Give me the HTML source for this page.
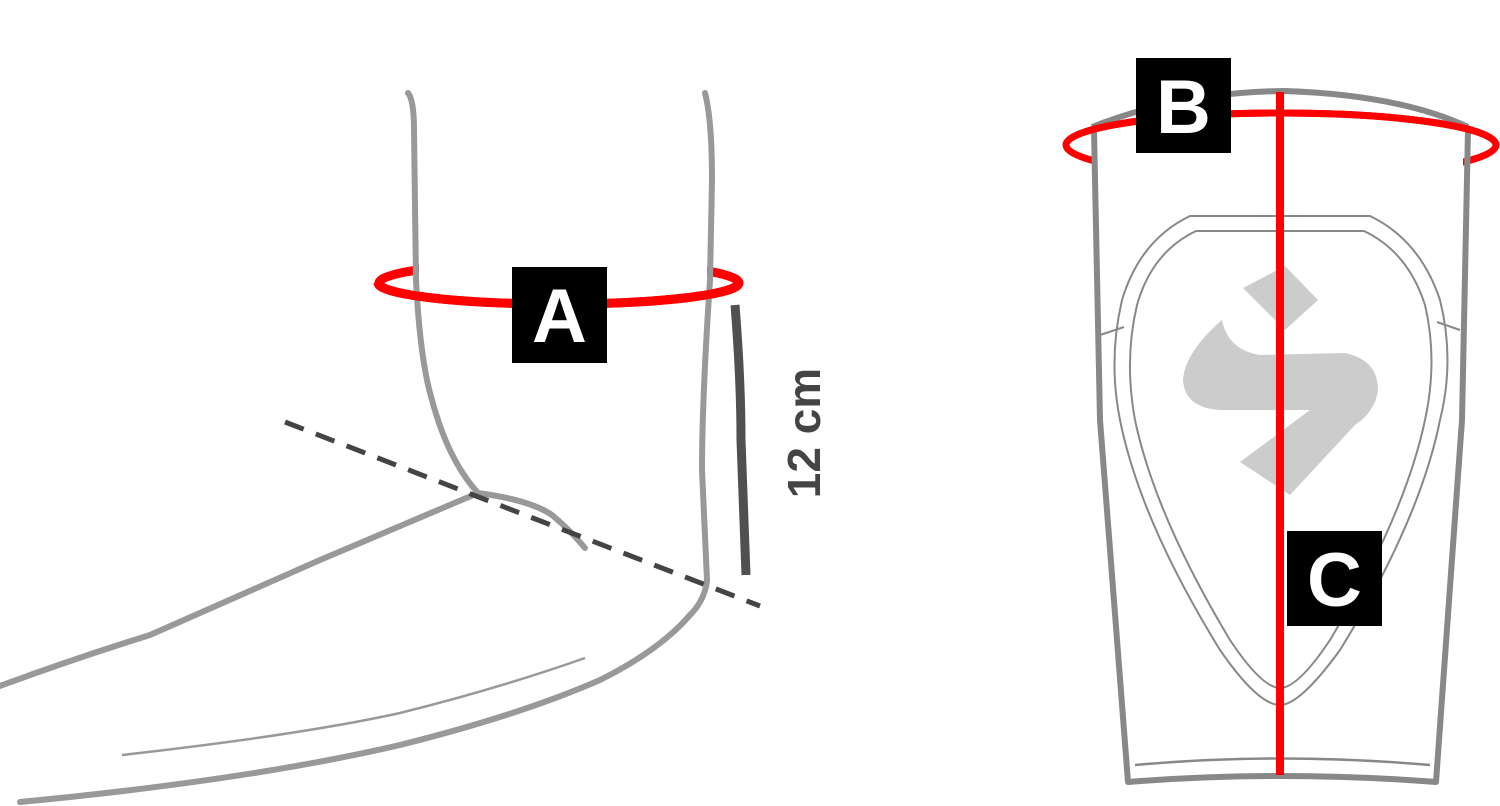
<!DOCTYPE html>
<html><head><meta charset="utf-8"><style>html,body{margin:0;padding:0;background:#fff}svg{display:block}</style></head>
<body>
<svg width="1500" height="806" viewBox="0 0 1500 806" xmlns="http://www.w3.org/2000/svg">
<ellipse cx="559" cy="283" rx="180" ry="21" fill="none" stroke="#f00" stroke-width="9"/>
<rect x="419" y="250" width="288" height="34" fill="#fff"/>
<g fill="none" stroke="#999" stroke-width="6" stroke-linecap="round" stroke-linejoin="round">
<path d="M408,93 Q414,100 414,130 L416,280 Q420,360 432,400 Q448,460 478,493"/>
<path d="M478,493 L320,560 Q230,600 150,635 Q70,660 0,686"/>
<path d="M478,493 Q530,500 552,515 Q570,530 585,548"/>
<path d="M705,93 Q712,120 712,180 L710,280 Q702,400 702,470 L707,580 Q705,600 690,615 Q660,650 600,680 Q520,715 400,745 Q250,780 20,802"/>
</g>
<path d="M378,283 A180,21 0 0 0 738,283" fill="none" stroke="#f00" stroke-width="9"/>
<path d="M122,755 Q300,735 400,713 Q500,688 585,658" fill="none" stroke="#999" stroke-width="2.5"/>
<line x1="285" y1="422" x2="760" y2="606" stroke="#444" stroke-width="5" stroke-dasharray="20 13"/>
<path d="M735,305 Q741,380 741,440 L746,575" fill="none" stroke="#505050" stroke-width="9"/>
<text x="0" y="0" transform="translate(820,433) rotate(-90)" text-anchor="middle" font-family="Liberation Sans, sans-serif" font-weight="bold" font-size="46" fill="#444">12 cm</text>
<rect x="512" y="267" width="95" height="96" fill="#000"/>
<text x="559.5" y="342" text-anchor="middle" font-family="Liberation Sans, sans-serif" font-weight="bold" font-size="76" fill="#fff">A</text>

<!-- right -->
<ellipse cx="1281" cy="145" rx="215" ry="32" fill="none" stroke="#f00" stroke-width="7"/>
<rect x="1097" y="146" width="366" height="40" fill="#fff"/>
<g fill="none" stroke="#888" stroke-width="6" stroke-linejoin="round">
<path d="M1092,127 Q1180,92 1285,91 Q1400,95 1468,127"/>
<path d="M1094,130 L1100,420 L1128,782 Q1280,770 1436,782 L1462,420 L1468,130"/>
</g>
<path d="M1135,765 Q1280,752 1430,765" fill="none" stroke="#888" stroke-width="2.5"/>
<g fill="none" stroke="#888" stroke-width="2">
<path d="M1190,216 L1370,216 Q1420,240 1440,300 Q1455,360 1440,420 Q1420,520 1340,650 Q1300,705 1280,705 Q1258,705 1220,650 Q1140,520 1120,420 Q1108,360 1122,300 Q1140,240 1190,216Z"/>
<path d="M1196,231 L1364,231 Q1408,252 1425,305 Q1438,360 1425,420 Q1405,515 1330,640 Q1298,688 1280,688 Q1262,688 1230,640 Q1155,515 1135,420 Q1124,360 1137,305 Q1152,252 1196,231Z"/>
<path d="M1100,335 L1124,327 M1460,330 L1437,322"/>
</g>
<path fill="#ccc" d="M1243,288 L1285,266 L1318,300 L1285,330 Z"/>
<path fill="#ccc" d="M1222,320 Q1228,350 1260,355 L1345,353 Q1378,360 1378,390 Q1375,412 1355,425 L1290,495 L1240,462 L1310,410 L1220,410 Q1185,408 1183,380 Q1185,352 1222,320 Z"/>
<line x1="1280" y1="92" x2="1280" y2="775" stroke="#f00" stroke-width="8"/>
<path d="M1066,145 A215,32 0 0 1 1496,145" fill="none" stroke="#f00" stroke-width="7"/>
<rect x="1136" y="58" width="95" height="95" fill="#000"/>
<text x="1183.5" y="133" text-anchor="middle" font-family="Liberation Sans, sans-serif" font-weight="bold" font-size="76" fill="#fff">B</text>
<rect x="1287" y="531" width="95" height="95" fill="#000"/>
<text x="1334.5" y="606" text-anchor="middle" font-family="Liberation Sans, sans-serif" font-weight="bold" font-size="76" fill="#fff">C</text>
</svg>
</body></html>
